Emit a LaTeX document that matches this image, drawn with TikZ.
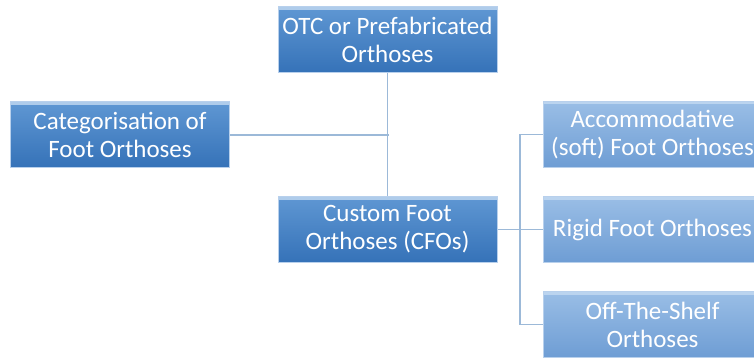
\documentclass[tikz,border=0pt]{standalone}
\usepackage{fontspec}
\setmainfont{Carlito}
\definecolor{darktop}{HTML}{5F97D3}
\definecolor{darkbot}{HTML}{3572B8}
\definecolor{lighttop}{HTML}{9ABEE6}
\definecolor{lightbot}{HTML}{6E9DD4}
\definecolor{edgecol}{HTML}{B8D0EC}
\definecolor{linecol}{HTML}{9CB9D8}
\definecolor{shinecol}{HTML}{C4DAF2}
\begin{document}
\begin{tikzpicture}[x=1pt,y=-1pt,
  box/.style={minimum width=219pt, minimum height=66pt, inner sep=0pt, align=center,
    text=white, font=\fontsize{25}{28}\selectfont, draw=edgecol, line width=1pt,
    path picture={\fill[shinecol, opacity=0.8] (path picture bounding box.north west) rectangle ([yshift=-3pt]path picture bounding box.north east);}},
  darkbox/.style={box, top color=darktop, bottom color=darkbot},
  lightbox/.style={box, top color=lighttop, bottom color=lightbot},
  conn/.style={draw=linecol, line width=1.6pt}]
\useasboundingbox (0,0) rectangle (754,358);
\node[darkbox] (otc) at (387.5,40) {OTC or Prefabricated\\Orthoses};
\node[darkbox] (cat) at (120,135) {Categorisation of\\Foot Orthoses};
\node[darkbox] (cfo) at (387.5,229.5) {Custom Foot\\Orthoses (CFOs)};
\node[lightbox] (acc) at (652.5,134.5) {Accommodative\\(soft) Foot Orthoses};
\node[lightbox] (rig) at (652.5,229.5) {Rigid Foot Orthoses};
\node[lightbox] (ots) at (652.5,324.5) {Off-The-Shelf\\Orthoses};
\coordinate (j1) at (388.5,135);
\coordinate (j2) at (520,229.5);
\draw[conn] (otc.south) -- (cfo.north);
\draw[conn] (cat.east) -- (j1);
\draw[conn] (cfo.east) -- (rig.west);
\draw[conn] (acc.west) -| (j2) |- (ots.west);
\end{tikzpicture}
\end{document}
